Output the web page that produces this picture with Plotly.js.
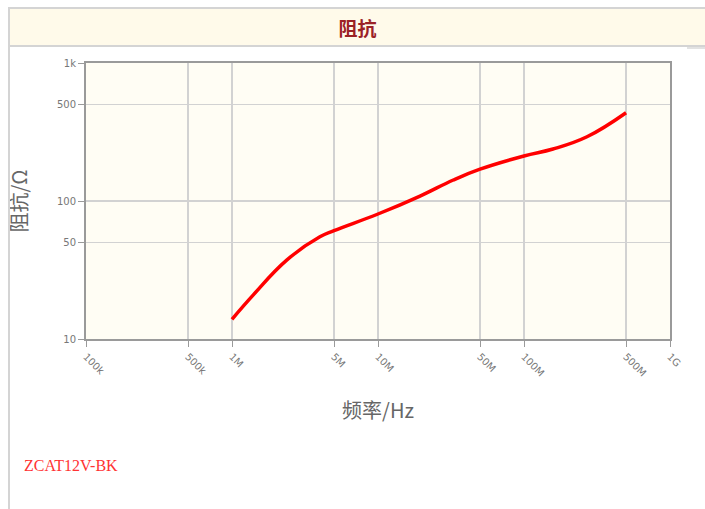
<!DOCTYPE html>
<html><head><meta charset="utf-8">
<script src="https://cdn.plot.ly/plotly-3.0.1.min.js"></script>
<style>
html,body{margin:0;padding:0;width:705px;height:509px;overflow:hidden;background:#fff;}
#frame{position:absolute;left:8px;top:7px;width:0;height:502px;border-left:2px solid #d4d4d4;}
#hdr{position:absolute;left:8px;top:7px;width:697px;height:40px;background:#fffaea;border:2px solid #d4d4d4;border-right:none;box-sizing:border-box;
 text-align:center;line-height:38px;font-family:"Noto Sans CJK SC";font-size:19px;color:#9b2226;font-weight:bold;}
#shadow{position:absolute;left:687px;top:47px;width:18px;height:2px;background:#e2e2e2;}
#chart{position:absolute;left:0;top:0;width:705px;height:509px;}
#model{position:absolute;left:24px;top:457px;font-family:"Liberation Serif","DejaVu Serif";font-size:16px;color:#ff3333;}
</style></head>
<body>
<div id="chart"></div>
<div id="frame"></div>
<div id="hdr">阻抗</div>
<div id="shadow"></div>
<div id="model">ZCAT12V-BK</div>
<script>
const freqHz = [1.0e6, 1.4e6, 2.37e6, 4.0e6, 5.0e6, 1.0e7, 1.94e7, 3.28e7, 5.0e7, 1.0e8, 1.58e8, 2.7e8, 5.0e8];
const impedance = [13.9, 20.9, 37.3, 55, 61, 80.5, 108.6, 142, 170, 212, 238, 292, 436];
const xTickVals = [1e5, 5e5, 1e6, 5e6, 1e7, 5e7, 1e8, 5e8, 1e9];
const xTickText = ["100k","500k","1M","5M","10M","50M","100M","500M","1G"];
const yTickVals = [10, 50, 100, 500, 1000];
const yTickText = ["10","50","100","500","1k"];

const data = [{
  x: freqHz, y: impedance, type: 'scatter', mode: 'lines',
  line: {color: '#ff0000', width: 3.5, shape: 'spline', smoothing: 1.2},
  hoverinfo: 'skip'
}];
const axisCommon = {
  showline: true, mirror: true, linecolor: '#9a9a9a', linewidth: 2,
  gridcolor: '#d2d2d2', gridwidth: 1.5, zeroline: false,
  ticks: 'outside', ticklen: 6, tickcolor: '#9a9a9a', tickwidth: 1,
  tickfont: {family: 'DejaVu Sans', size: 10, color: '#777'}
};
const layout = {
  width: 705, height: 509,
  margin: {l: 86, r: 35, t: 63, b: 170},
  paper_bgcolor: 'rgba(0,0,0,0)', plot_bgcolor: '#fffdf4',
  showlegend: false,
  xaxis: Object.assign({}, axisCommon, {
    type: 'log', range: [5, 9], tickvals: xTickVals, ticktext: xTickText, tickangle: 45,
    title: {text: '频率/Hz', standoff: 26, font: {family: 'Noto Sans CJK SC', size: 20, color: '#666'}}
  }),
  yaxis: Object.assign({}, axisCommon, {
    type: 'log', range: [1, 3], tickvals: yTickVals, ticktext: yTickText,
    title: {text: '阻抗/Ω', standoff: 24, font: {family: 'Noto Sans CJK SC', size: 20, color: '#666'}}
  })
};
Plotly.newPlot('chart', data, layout, {displayModeBar: false, staticPlot: true});
</script>
</body></html>
